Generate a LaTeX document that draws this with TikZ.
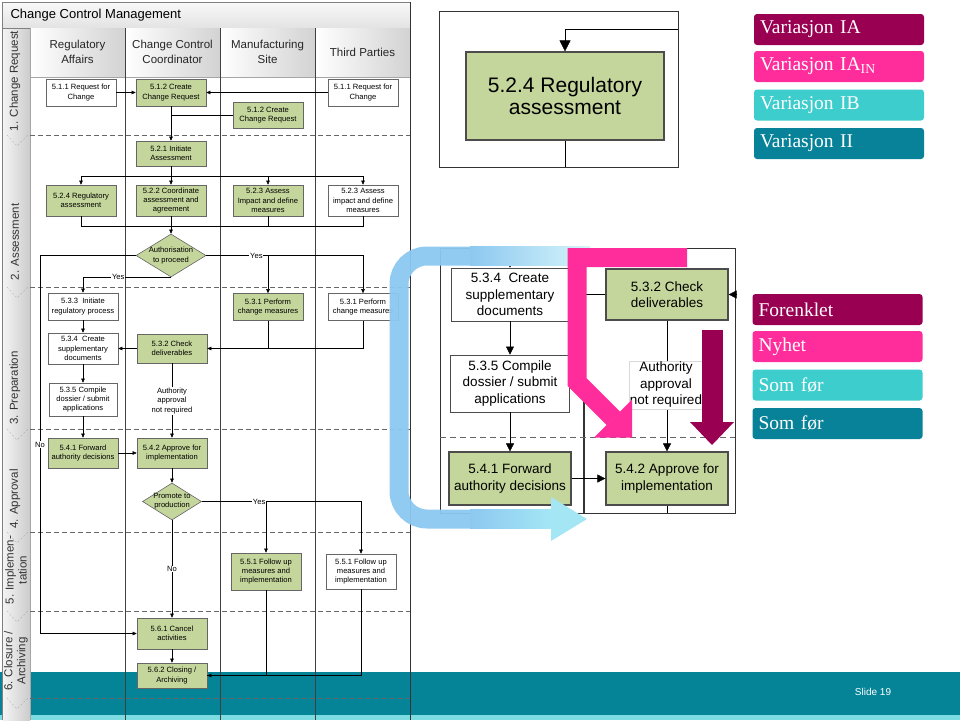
\documentclass[tikz,border=0pt]{standalone}
\usepackage{fontspec}
\setmainfont{Liberation Sans}
\newfontfamily\legendfont{Liberation Serif}
\usetikzlibrary{shapes.geometric,arrows.meta}
\definecolor{boxgreen}{RGB}{196,214,155}
\definecolor{iaC}{RGB}{153,0,82}
\definecolor{inC}{RGB}{255,45,155}
\definecolor{ibC}{RGB}{62,205,205}
\definecolor{iiC}{RGB}{8,130,152}
\definecolor{bandC}{RGB}{5,132,152}
\definecolor{stripC}{RGB}{125,220,225}
\definecolor{blueA}{RGB}{140,200,240}
\definecolor{blueL}{RGB}{215,245,250}
\definecolor{blueM}{RGB}{165,230,245}
\begin{document}
\begin{tikzpicture}[x=1pt,y=-1pt,
  >={Triangle[length=4pt,width=3.5pt]},
  box/.style={draw=black!60,line width=0.6pt,minimum width=70pt,inner sep=1pt,align=center,font=\fontsize{7.6}{9.3}\selectfont},
  gbox/.style={box,fill=boxgreen},
  wbox/.style={box,fill=white},
  decision/.style={diamond,draw=black!60,line width=0.6pt,fill=boxgreen,inner sep=0pt},
  dtext/.style={align=center,inner sep=0pt,font=\fontsize{7.6}{9.3}\selectfont},
  lbl/.style={fill=white,inner sep=0.8pt,align=center,font=\fontsize{7.6}{9.3}\selectfont},
  stage/.style={rotate=90,align=center,text=black!80,font=\fontsize{11.5}{13}\selectfont},
  head/.style={align=center,text=black!85,font=\fontsize{11.5}{14.3}\selectfont},
  bigbox/.style={draw=black!70,line width=1.2pt,fill=boxgreen,align=center,inner sep=2pt,font=\fontsize{13.5}{16.5}\selectfont},
  bigw/.style={bigbox,fill=white,line width=0.9pt},
  bigtip/.style={-{Triangle[length=8pt,width=8pt]}},
  legbox/.style={rounded corners=3pt,minimum height=31pt,text width=158pt,inner xsep=6pt,text=white,font=\legendfont\fontsize{19.5}{22}\selectfont}]
\useasboundingbox (0,0) rectangle (960,720);

% bottom band
\fill[bandC] (0,672) rectangle (960,715);
\fill[stripC] (0,715) rectangle (960,720);

% swimlane frame
\shade[left color=gray!8,right color=gray!40] (2,28) rectangle (30,720);
\shade[top color=gray!5,bottom color=gray!22,draw=gray] (2,2) rectangle (410,28);
\node[anchor=west,font=\fontsize{13}{15}\selectfont] (title) at (7,15) {Change Control Management};
\foreach \a/\b in {30/125,125/220,220/315,315/410}
  \shade[left color=white,right color=gray!35] (\a,28) rectangle (\b,77);
\draw[gray!70] (30,77) -- (410,77);
\draw[gray!70] (30,28) -- (30,720);
\draw[gray] (2,2) -- (2,720);
\draw[black!80] (410,2) -- (410,720);
\foreach \x in {125,220,315}
  \draw[black!75] (\x,28) -- (\x,720);
\foreach \y in {135,287,429,532,611,698}{
  \draw[black!60,dash pattern=on 5pt off 3pt] (30,\y) -- (410,\y);
  \draw[gray!60,dash pattern=on 2pt off 2pt] (7,\y) -- (17,\y+11) -- (28,\y);
}

\node[head] (hRA) at (77.5,52) {Regulatory\\Affairs};
\node[head] (hCC) at (172.5,52) {Change Control\\Coordinator};
\node[head] (hMS) at (267.5,52) {Manufacturing\\Site};
\node[head] (hTP) at (362.5,52) {Third Parties};

\node[stage] (st1) at (15,81) {1. Change Request};
\node[stage] (st2) at (15,242) {2. Assessment};
\node[stage] (st3) at (15,388) {3. Preparation};
\node[stage] (st4) at (15,499) {4. Approval};
\node[stage] (st5) at (16,570) {5. Implemen-\\tation};
\node[stage] (st6) at (16,661) {6. Closure /\\Archiving};

% stage 1
\node[wbox,minimum height=27pt] (ra511) at (81,92.5) {5.1.1 Request for\\Change};
\node[gbox,minimum height=27pt] (cc512) at (171,92.5) {5.1.2 Create\\Change Request};
\node[wbox,minimum height=27pt] (tp511) at (363,92.5) {5.1.1 Request for\\Change};
\node[gbox,minimum height=26pt] (ms512) at (268,115) {5.1.2 Create\\Change Request};
\node[gbox,minimum height=25pt] (cc521) at (171,153.5) {5.2.1 Initiate\\Assessment};

% stage 2
\node[gbox,minimum height=31pt] (ra524) at (81,200.5) {5.2.4 Regulatory\\assessment};
\node[gbox,minimum height=31pt] (cc522) at (171,200.5) {5.2.2 Coordinate\\assessment and\\agreement};
\node[gbox,minimum height=31pt] (ms523) at (268,200.5) {5.2.3 Assess\\Impact and define\\measures};
\node[wbox,minimum height=31pt] (tp523) at (363,200.5) {5.2.3 Assess\\impact and define\\measures};
\node[decision,minimum width=70pt,minimum height=43pt] (dAuth) at (171,255.5) {};
\node[dtext] (dAuthTxt) at (dAuth) {Authorisation\\to proceed};
\coordinate (split) at (171,176);
\coordinate (join) at (171,226);
\coordinate (noX) at (40,0);

% stage 3
\node[wbox,minimum height=27pt] (ra533) at (83,306.5) {5.3.3\ \ Initiate\\regulatory process};
\node[gbox,minimum height=27pt] (ms531) at (268,307) {5.3.1 Perform\\change measures};
\node[wbox,minimum height=27pt] (tp531) at (363,307) {5.3.1 Perform\\change measures};
\node[wbox,minimum height=31pt] (ra534) at (83,348.5) {5.3.4\ \ Create\\supplementary\\documents};
\node[gbox,minimum height=29pt] (cc532) at (172,348.5) {5.3.2 Check\\deliverables};
\node[wbox,minimum width=68pt,minimum height=33pt] (ra535) at (83,399.5) {5.3.5 Compile\\dossier / submit\\applications};

% stage 4
\node[gbox,minimum height=30pt] (ra541) at (83,453) {5.4.1 Forward\\authority decisions};
\node[gbox,minimum height=30pt] (cc542) at (172,453) {5.4.2 Approve for\\implementation};
\node[decision,minimum width=59pt,minimum height=37pt] (dProm) at (172,501.5) {};
\node[dtext] (dPromTxt) at (dProm) {Promote to\\production};

% stage 5 and 6
\node[gbox,minimum height=37pt] (ms551) at (266,571.5) {5.5.1 Follow up\\measures and\\implementation};
\node[wbox,minimum height=35pt] (tp551) at (361,571.5) {5.5.1 Follow up\\measures and\\implementation};
\node[gbox,minimum height=31pt] (cc561) at (172,633.5) {5.6.1 Cancel\\activities};
\node[gbox,minimum height=25pt] (cc562) at (172,675.5) {5.6.2 Closing /\\Archiving};

% connectors
\draw[->] (ra511) -- (cc512);
\draw[->] (tp511) -- (cc512);
\draw (ms512.west) -- (ms512.west -| cc512.south);
\draw[->] (cc512) -- (cc521);
\draw (cc521) -- (split);
\draw[->] (split) -| (ra524.north);
\draw[->] (split) -- (cc522.north);
\draw[->] (split) -| (ms523.north);
\draw[->] (split) -| (tp523.north);
\draw (ra524.south) |- (join);
\draw (ms523.south) |- (join);
\draw (tp523.south) |- (join);
\draw[->] (cc522.south) -- (dAuth.north);
\draw[->] (dAuth.south) -| node[lbl,pos=0.3] (yes1) {Yes} (ra533.north);
\draw[->] (dAuth.east) -| node[lbl,pos=0.16] (yes2) {Yes} (tp531.north);
\draw[->] (dAuth.east -| ms531.north) -- (ms531.north);
\draw[->] (dAuth.west) -| node[lbl,pos=0.75] (no1) {No} (noX |- cc561.west) -- (cc561.west);
\draw[->] (ra533) -- (ra534);
\draw[->] (ra534) -- (ra535);
\draw[->] (ra535) -- (ra541);
\draw (ms531.south) -- (ms531.south |- cc532.east);
\draw[->] (tp531.south) |- (cc532.east);
\draw[->] (cc532.west) -- (ra534.east);
\draw[->] (cc532) -- (cc542);
\node[lbl] (lblAuth) at (172,401) {Authority\\approval\\not required};
\draw[->] (ra541) -- (cc542);
\draw[->] (cc542.south) -- (dProm.north);
\draw[->] (dProm.east) -| node[lbl,pos=0.18] (yes3) {Yes} (tp551.north);
\draw[->] (dProm.east -| ms551.north) -- (ms551.north);
\draw[->] (dProm.south) -- node[lbl] (no2) {No} (cc561.north);
\draw[->] (cc561) -- (cc562);
\draw (ms551.south) |- (cc562.east);
\draw[->] (tp551.south) |- (cc562.east);

% zoom 1
\draw[black!80] (439,11) rectangle (678,167);
\node[bigbox,minimum width=198pt,minimum height=88pt,font=\fontsize{21}{22.5}\selectfont] (bigR524) at (565,96) {5.2.4 Regulatory\\assessment};
\coordinate (f1in) at (678,29);
\coordinate (f1out) at (565,167);
\draw[-{Triangle[length=11pt,width=11pt]}] (f1in) -| (bigR524.north);
\draw (bigR524.south) -- (f1out);

% zoom 2
\draw[black!80] (440,248) rectangle (735,513);
\draw[black!80,line width=1.3pt] (584,248) -- (584,513);
\draw[black!60,dash pattern=on 6pt off 4pt] (440,437) -- (735,437);
\node[bigw,minimum width=118pt,minimum height=53pt] (zb534) at (510,294.5) {5.3.4\ \ Create\\supplementary\\documents};
\node[bigbox,minimum width=122pt,minimum height=51pt] (zb532) at (667,294.5) {5.3.2 Check\\deliverables};
\node[bigw,minimum width=119pt,minimum height=57pt] (zb535) at (510,383.5) {5.3.5 Compile\\dossier / submit\\applications};
\node[bigbox,minimum width=122pt,minimum height=53pt] (zb541) at (510,478.5) {5.4.1 Forward\\authority decisions};
\node[bigbox,minimum width=122pt,minimum height=53pt] (zb542) at (667,478.5) {5.4.2 Approve for\\implementation};
\coordinate (zin) at (510,248);
\coordinate (zr) at (735,294.5);
\coordinate (zbot) at (667,513);
\draw[bigtip] (zin) -- (zb534);
\draw[bigtip] (zb534) -- (zb535);
\draw[bigtip] (zb535) -- (zb541);
\draw[bigtip] (zb532) -- (zb534);
\draw[bigtip] (zr) -- (zb532);
\draw[bigtip] (zb532) -- (zb542);
\draw[bigtip] (zb541) -- (zb542);
\draw (zb542) -- (zbot);
\node[fill=white,draw=gray!30,inner sep=1pt,align=center,font=\fontsize{13.5}{16.5}\selectfont] (zbAuth) at (666,385) {Authority\\approval\\not required};

% highlight arrows
\draw[blueA,opacity=0.95,line width=19pt,rounded corners=28pt] (471,256) -- (399,256) -- (399,519) -- (471,519);
\shade[left color=blueA,right color=blueL] (470,246.5) rectangle (590,265.5);
\shade[left color=blueA,right color=blueM] (470,509.5) rectangle (552,528.5);
\fill[blueM] (551,497) -- (587,519) -- (551,541) -- cycle;
\draw[inC,line width=19pt,line join=miter] (687,257.5) -| (577,382) -- (613.5,418.5);
\fill[inC] (594,437.5) -- (632,437.5) -- (632,399.5) -- cycle;
\fill[iaC] (702,330) rectangle (723,423);
\fill[iaC] (690,422) -- (734,422) -- (712,445) -- cycle;

% legend
\node[legbox,fill=iaC] (lgIA) at (839,29.5) {Variasjon IA};
\node[legbox,fill=inC] (lgIN) at (839,66.5) {Variasjon IA\textsubscript{IN}};
\node[legbox,fill=ibC] (lgIB) at (839,105) {Variasjon IB};
\node[legbox,fill=iiC] (lgII) at (839,143.5) {Variasjon II};
\node[legbox,fill=iaC] (lgF) at (837.5,309.5) {Forenklet};
\node[legbox,fill=inC] (lgN) at (837.5,346.5) {Nyhet};
\node[legbox,fill=ibC] (lgS1) at (837.5,385) {Som før};
\node[legbox,fill=iiC] (lgS2) at (837.5,423.5) {Som før};

\node[text=white,font=\fontsize{10}{12}\selectfont] (slide) at (873,692) {Slide 19};
\end{tikzpicture}
\end{document}
